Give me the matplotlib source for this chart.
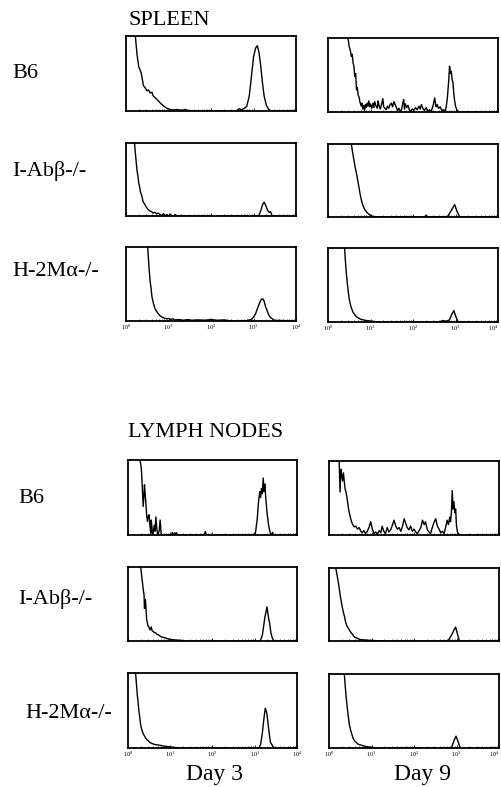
import numpy as np
import matplotlib
matplotlib.use("Agg")
import matplotlib.pyplot as plt
from matplotlib.ticker import LogLocator, NullFormatter

plt.rcParams['font.family'] = ['Liberation Serif', 'DejaVu Serif']
plt.rcParams['mathtext.fontset'] = 'custom'
plt.rcParams['mathtext.rm'] = 'Liberation Serif'

# histogram traces: (log10 fluorescence, relative count)
# values above 1 run off the top of the frame
sp_d3_b6 = [(0.0, 1.2), (0.22, 1.0), (0.26, 0.75), (0.30, 0.59), (0.33, 0.55), (0.36, 0.50),
            (0.41, 0.34), (0.45, 0.31), (0.49, 0.27), (0.53, 0.28), (0.57, 0.24), (0.61, 0.25),
            (0.64, 0.20), (0.68, 0.18), (0.72, 0.16), (0.76, 0.135), (0.82, 0.10), (0.88, 0.07),
            (0.95, 0.04), (1.03, 0.02), (1.10, 0.015), (1.20, 0.02), (1.30, 0.01), (1.40, 0.02),
            (1.50, 0.0), (2.60, 0.0), (2.66, 0.03), (2.72, 0.015), (2.78, 0.035), (2.84, 0.06),
            (2.90, 0.2), (2.95, 0.45), (3.00, 0.72), (3.05, 0.84), (3.09, 0.87), (3.13, 0.78),
            (3.17, 0.6), (3.21, 0.38), (3.25, 0.2), (3.30, 0.08), (3.36, 0.02), (3.42, 0.0), (4.0, 0.0)]

sp_d9_b6 = [(0.0, 1.2), (0.47, 1.0), (0.50, 0.88), (0.53, 0.82), (0.55, 0.75), (0.57, 0.78),
            (0.59, 0.66), (0.61, 0.62), (0.63, 0.48), (0.65, 0.52), (0.67, 0.30), (0.69, 0.33),
            (0.71, 0.23), (0.73, 0.20), (0.75, 0.14), (0.78, 0.08), (0.80, 0.12), (0.82, 0.04),
            (0.84, 0.09), (0.86, 0.02), (0.88, 0.10), (0.90, 0.06), (0.92, 0.12), (0.94, 0.08),
            (0.96, 0.15), (0.98, 0.07), (1.00, 0.11), (1.03, 0.05), (1.06, 0.12), (1.08, 0.06),
            (1.10, 0.14), (1.13, 0.08), (1.16, 0.05), (1.18, 0.15), (1.20, 0.09), (1.23, 0.04),
            (1.26, 0.10), (1.29, 0.18), (1.31, 0.07), (1.34, 0.05), (1.37, 0.03), (1.40, 0.08),
            (1.43, 0.05), (1.46, 0.10), (1.49, 0.12), (1.52, 0.07), (1.55, 0.14), (1.58, 0.10),
            (1.61, 0.06), (1.64, 0.02), (1.67, 0.05), (1.70, 0.01), (1.73, 0.03), (1.76, 0.12),
            (1.78, 0.17), (1.80, 0.04), (1.82, 0.11), (1.85, 0.06), (1.88, 0.09), (1.92, 0.02),
            (1.95, 0.01), (1.98, 0.04), (2.02, 0.02), (2.06, 0.06), (2.10, 0.03), (2.14, 0.08),
            (2.17, 0.04), (2.20, 0.10), (2.23, 0.05), (2.27, 0.02), (2.31, 0.06), (2.35, 0.01),
            (2.39, 0.03), (2.43, 0.01), (2.47, 0.08), (2.51, 0.19), (2.54, 0.07), (2.57, 0.10),
            (2.60, 0.05), (2.64, 0.07), (2.68, 0.02), (2.72, 0.03), (2.75, 0.01), (2.78, 0.06),
            (2.81, 0.20), (2.84, 0.42), (2.86, 0.62), (2.88, 0.52), (2.90, 0.55), (2.92, 0.44),
            (2.94, 0.40), (2.96, 0.25), (2.98, 0.15), (3.00, 0.08), (3.03, 0.03), (3.06, 0.01),
            (3.10, 0.0), (4.0, 0.0)]

sp_d3_iab = [(0.0, 1.2), (0.20, 1.0), (0.23, 0.80), (0.26, 0.62), (0.28, 0.55), (0.30, 0.45),
             (0.32, 0.40), (0.34, 0.33), (0.37, 0.28), (0.40, 0.20), (0.44, 0.16), (0.48, 0.12),
             (0.52, 0.09), (0.56, 0.07), (0.60, 0.06), (0.64, 0.04), (0.68, 0.05), (0.72, 0.03),
             (0.76, 0.04), (0.80, 0.02), (0.84, 0.01), (0.88, 0.03), (0.92, 0.005), (0.96, 0.02),
             (1.00, 0.0), (1.04, 0.025), (1.08, 0.005), (1.12, 0.0), (1.16, 0.02), (1.20, 0.0),
             (3.12, 0.0), (3.17, 0.07), (3.21, 0.15), (3.25, 0.19), (3.29, 0.14), (3.33, 0.08),
             (3.37, 0.05), (3.40, 0.06), (3.44, 0.0), (4.0, 0.0)]

sp_d9_iab = [(0.0, 1.2), (0.55, 1.0), (0.58, 0.88), (0.61, 0.78), (0.64, 0.68), (0.67, 0.60),
             (0.70, 0.50), (0.73, 0.40), (0.76, 0.30), (0.79, 0.22), (0.82, 0.16), (0.85, 0.12),
             (0.88, 0.09), (0.92, 0.06), (0.96, 0.04), (1.02, 0.015), (1.10, 0.005), (1.30, 0.0),
             (1.60, 0.005), (2.00, 0.0), (2.27, 0.0), (2.31, 0.025), (2.35, 0.0), (2.60, 0.005),
             (2.75, 0.0), (2.82, 0.01), (2.90, 0.09), (2.98, 0.17), (3.04, 0.07), (3.10, 0.0), (4.0, 0.0)]

sp_d3_h2m = [(0.0, 1.2), (0.51, 1.0), (0.53, 0.82), (0.55, 0.66), (0.57, 0.53), (0.59, 0.44),
             (0.61, 0.33), (0.64, 0.25), (0.66, 0.21), (0.68, 0.17), (0.72, 0.13), (0.76, 0.10),
             (0.80, 0.07), (0.84, 0.055), (0.90, 0.04), (0.95, 0.03), (1.00, 0.035), (1.05, 0.02),
             (1.10, 0.03), (1.15, 0.015), (1.25, 0.02), (1.35, 0.01), (1.45, 0.02), (1.55, 0.01),
             (1.70, 0.015), (1.85, 0.01), (2.00, 0.02), (2.15, 0.01), (2.30, 0.015), (2.50, 0.0),
             (2.80, 0.0), (2.94, 0.02), (3.00, 0.05), (3.05, 0.10), (3.10, 0.18), (3.14, 0.24),
             (3.18, 0.29), (3.22, 0.30), (3.25, 0.27), (3.28, 0.20), (3.32, 0.14), (3.36, 0.08),
             (3.40, 0.05), (3.44, 0.03), (3.48, 0.01), (4.0, 0.0)]

sp_d9_h2m = [(0.0, 1.2), (0.39, 1.0), (0.41, 0.82), (0.43, 0.67), (0.45, 0.55), (0.47, 0.44),
             (0.49, 0.35), (0.51, 0.28), (0.53, 0.23), (0.55, 0.19), (0.59, 0.13), (0.63, 0.10),
             (0.67, 0.07), (0.71, 0.055), (0.76, 0.04), (0.82, 0.03), (0.90, 0.02), (0.98, 0.015),
             (1.05, 0.01), (1.20, 0.0), (2.60, 0.0), (2.71, 0.02), (2.78, 0.01), (2.86, 0.03),
             (2.91, 0.10), (2.96, 0.155), (3.01, 0.07), (3.06, 0.0), (4.0, 0.0)]

ln_d3_b6 = [(0.0, 1.2), (0.28, 1.0), (0.30, 0.95), (0.32, 0.85), (0.34, 0.62), (0.36, 0.38),
            (0.38, 0.55), (0.39, 0.67), (0.41, 0.52), (0.42, 0.45), (0.44, 0.28), (0.46, 0.18),
            (0.48, 0.25), (0.50, 0.27), (0.52, 0.12), (0.54, 0.02), (0.55, 0.20), (0.57, 0.08),
            (0.59, 0.0), (0.62, 0.13), (0.64, 0.05), (0.66, 0.24), (0.68, 0.10), (0.70, 0.0),
            (0.71, 0.0), (0.74, 0.06), (0.76, 0.20), (0.78, 0.05), (0.79, 0.0), (0.82, 0.0),
            (1.03, 0.0), (1.05, 0.035), (1.07, 0.0), (1.11, 0.03), (1.13, 0.0), (1.15, 0.03),
            (1.17, 0.0), (1.80, 0.0), (1.83, 0.045), (1.86, 0.0), (2.97, 0.0), (3.02, 0.04),
            (3.06, 0.22), (3.09, 0.45), (3.12, 0.58), (3.14, 0.50), (3.16, 0.62), (3.18, 0.55),
            (3.20, 0.76), (3.22, 0.58), (3.24, 0.68), (3.26, 0.50), (3.29, 0.30), (3.33, 0.12),
            (3.37, 0.02), (3.40, 0.0), (3.42, 0.035), (3.45, 0.0), (4.0, 0.0)]

ln_d9_b6 = [(0.0, 1.2), (0.24, 1.0), (0.26, 0.58), (0.28, 0.89), (0.30, 0.80), (0.32, 0.73),
            (0.34, 0.84), (0.36, 0.72), (0.38, 0.62), (0.40, 0.58), (0.43, 0.48), (0.46, 0.35),
            (0.49, 0.27), (0.52, 0.20), (0.55, 0.15), (0.59, 0.11), (0.63, 0.12), (0.67, 0.08),
            (0.71, 0.10), (0.75, 0.05), (0.78, 0.03), (0.82, 0.06), (0.86, 0.02), (0.90, 0.05),
            (0.94, 0.10), (0.98, 0.18), (1.02, 0.08), (1.06, 0.02), (1.10, 0.04), (1.14, 0.01),
            (1.18, 0.06), (1.22, 0.03), (1.25, 0.12), (1.29, 0.05), (1.33, 0.02), (1.37, 0.10),
            (1.41, 0.04), (1.45, 0.07), (1.49, 0.13), (1.53, 0.20), (1.57, 0.12), (1.61, 0.08),
            (1.65, 0.10), (1.69, 0.05), (1.73, 0.12), (1.77, 0.22), (1.81, 0.15), (1.84, 0.10),
            (1.88, 0.07), (1.92, 0.12), (1.96, 0.05), (2.00, 0.08), (2.04, 0.04), (2.08, 0.02),
            (2.12, 0.06), (2.16, 0.10), (2.20, 0.20), (2.24, 0.14), (2.27, 0.18), (2.31, 0.08),
            (2.35, 0.04), (2.39, 0.02), (2.43, 0.10), (2.47, 0.17), (2.51, 0.22), (2.55, 0.12),
            (2.59, 0.08), (2.63, 0.03), (2.67, 0.05), (2.71, 0.02), (2.75, 0.12), (2.78, 0.20),
            (2.81, 0.14), (2.84, 0.24), (2.86, 0.18), (2.88, 0.30), (2.90, 0.60), (2.92, 0.35),
            (2.94, 0.45), (2.96, 0.30), (2.98, 0.35), (3.00, 0.12), (3.02, 0.05), (3.04, 0.02),
            (3.06, 0.01), (3.10, 0.0), (4.0, 0.0)]

ln_d3_iab = [(0.0, 1.2), (0.30, 1.0), (0.32, 0.9), (0.34, 0.80), (0.36, 0.70), (0.38, 0.62),
             (0.39, 0.44), (0.41, 0.56), (0.42, 0.50), (0.44, 0.30), (0.46, 0.24), (0.47, 0.21),
             (0.50, 0.18), (0.52, 0.15), (0.55, 0.19), (0.57, 0.14), (0.61, 0.12), (0.65, 0.11),
             (0.69, 0.09), (0.73, 0.08), (0.77, 0.06), (0.83, 0.05), (0.89, 0.04), (0.95, 0.03),
             (1.01, 0.02), (1.10, 0.015), (1.24, 0.01), (1.35, 0.0), (3.13, 0.0), (3.18, 0.08),
             (3.21, 0.2), (3.24, 0.32), (3.27, 0.40), (3.29, 0.46), (3.31, 0.38), (3.33, 0.30),
             (3.35, 0.25), (3.38, 0.12), (3.41, 0.05), (3.45, 0.0), (4.0, 0.0)]

ln_d9_iab = [(0.0, 1.2), (0.16, 1.0), (0.19, 0.9), (0.22, 0.80), (0.25, 0.68), (0.28, 0.57),
             (0.31, 0.47), (0.34, 0.39), (0.37, 0.32), (0.39, 0.26), (0.42, 0.21), (0.46, 0.17),
             (0.50, 0.13), (0.54, 0.10), (0.58, 0.07), (0.61, 0.05), (0.67, 0.035), (0.73, 0.02),
             (0.83, 0.015), (0.93, 0.01), (1.10, 0.005), (1.30, 0.0), (2.78, 0.0), (2.82, 0.02),
             (2.86, 0.06), (2.90, 0.10), (2.94, 0.15), (2.98, 0.19), (3.02, 0.10), (3.07, 0.0), (4.0, 0.0)]

ln_d3_h2m = [(0.0, 1.2), (0.18, 1.0), (0.20, 0.85), (0.22, 0.71), (0.24, 0.60), (0.26, 0.49),
             (0.28, 0.40), (0.30, 0.31), (0.32, 0.26), (0.34, 0.22), (0.36, 0.19), (0.39, 0.16),
             (0.42, 0.13), (0.45, 0.11), (0.49, 0.09), (0.53, 0.07), (0.59, 0.055), (0.65, 0.045),
             (0.71, 0.04), (0.77, 0.035), (0.85, 0.025), (0.93, 0.02), (1.00, 0.015), (1.08, 0.01),
             (1.20, 0.0), (3.10, 0.0), (3.14, 0.05), (3.18, 0.2), (3.21, 0.36), (3.23, 0.45),
             (3.25, 0.53), (3.27, 0.50), (3.29, 0.45), (3.31, 0.35), (3.33, 0.25), (3.37, 0.08),
             (3.44, 0.01), (3.50, 0.0), (4.0, 0.0)]

ln_d9_h2m = [(0.0, 1.2), (0.36, 1.0), (0.38, 0.85), (0.40, 0.71), (0.42, 0.60), (0.44, 0.49),
             (0.46, 0.40), (0.48, 0.31), (0.51, 0.24), (0.54, 0.18), (0.57, 0.13), (0.61, 0.09),
             (0.65, 0.07), (0.69, 0.05), (0.75, 0.04), (0.81, 0.03), (0.87, 0.02), (0.93, 0.015),
             (1.00, 0.01), (1.10, 0.0), (2.88, 0.0), (2.94, 0.1), (2.99, 0.16), (3.04, 0.08),
             (3.09, 0.0), (4.0, 0.0)]

strains = ['B6', 'I-Abβ-/-', 'H-2Mα-/-']
days = ['Day 3', 'Day 9']
tick_labels = [r'$10^{0}$', r'$10^{1}$', r'$10^{2}$', r'$10^{3}$', r'$10^{4}$']

W, H = 501, 787
fig = plt.figure(figsize=(W / 100, H / 100), dpi=100)


def box(x0, y0, x1, y1):
    # pixel box (top-left origin) -> figure fraction rect
    return [x0 / W, 1 - y1 / H, (x1 - x0) / W, (y1 - y0) / H]


def panel(rect, trace, bottom_labels, right_col):
    ax = fig.add_axes(rect)
    xy = np.array(trace)
    ax.plot(10 ** xy[:, 0], xy[:, 1], color='black', lw=1.0)
    ax.set_xscale('log')
    ax.set_xlim(1, 1e4)
    ax.set_ylim(0, 1)
    ax.set_yticks([])
    ax.xaxis.set_major_locator(LogLocator(base=10, numticks=10))
    ax.xaxis.set_minor_locator(LogLocator(base=10, subs=np.arange(2, 10), numticks=10))
    ax.xaxis.set_minor_formatter(NullFormatter())
    ax.tick_params(axis='x', which='major', direction='in', length=2.5, width=0.6, pad=1.5,
                   labelsize=4.5)
    ax.tick_params(axis='x', which='minor', direction='in', length=1.5, width=0.5)
    if bottom_labels:
        ax.set_xticks([1, 10, 100, 1000, 10000])
        labels = ax.set_xticklabels(tick_labels)
        if right_col:
            # last decade label sits on the page edge
            labels[-1].set_horizontalalignment('right')
    else:
        ax.set_xticklabels([])
    for s in ax.spines.values():
        s.set_linewidth(1.3)
        s.set_color('black')
    return ax


spleen = [[sp_d3_b6, sp_d9_b6], [sp_d3_iab, sp_d9_iab], [sp_d3_h2m, sp_d9_h2m]]
lymph = [[ln_d3_b6, ln_d9_b6], [ln_d3_iab, ln_d9_iab], [ln_d3_h2m, ln_d9_h2m]]

# panel frames in pixels
sp_cols = [(126, 296), (328, 498)]
sp_rows = [[(36, 111), (38, 112)], [(143, 216), (144, 217)], [(247, 321), (248, 322)]]
ln_cols = [(128, 297), (329, 499)]
ln_rows = [[(460, 535), (461, 535)], [(567, 641), (568, 641)], [(673, 748), (674, 748)]]

for r in range(3):
    for c in range(2):
        x0, x1 = sp_cols[c]
        y0, y1 = sp_rows[r][c]
        panel(box(x0, y0, x1, y1), spleen[r][c], r == 2, c == 1)
        x0, x1 = ln_cols[c]
        y0, y1 = ln_rows[r][c]
        panel(box(x0, y0, x1, y1), lymph[r][c], r == 2, c == 1)


def label(x, y, s, size=16, ha='left'):
    fig.text(x / W, 1 - y / H, s, fontsize=size, ha=ha, va='baseline', color='black')


label(128, 25, 'SPLEEN')
label(128, 437, 'LYMPH NODES')
for s, x, y in zip(strains, [12, 12, 12], [78, 176, 276]):
    label(x, y, s)
for s, x, y in zip(strains, [18, 18, 25], [503, 604, 718]):
    label(x, y, s)
for d, x in zip(days, [215, 422]):
    label(x, 780, d, size=17, ha='center')

fig.savefig('out.png', dpi=100)
